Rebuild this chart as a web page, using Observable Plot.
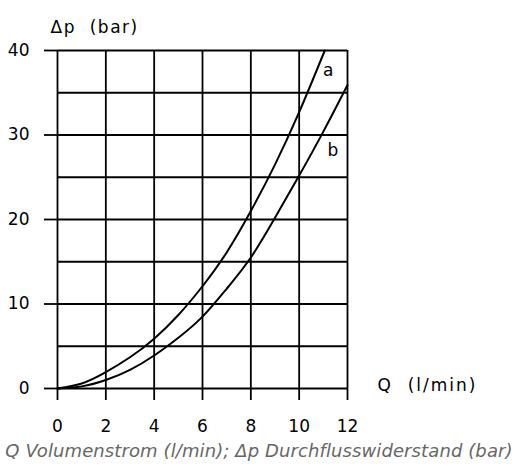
<!DOCTYPE html>
<html>
<head>
<meta charset="utf-8">
<script src="https://cdn.jsdelivr.net/npm/d3@7"></script>
<script src="https://cdn.jsdelivr.net/npm/@observablehq/plot@0.6"></script>
<style>
  html, body { margin: 0; padding: 0; background: #fff; }
  #caption { width: 518px; height: 30px; line-height: 30px; text-align: center;
    font-family: "DejaVu Sans", sans-serif; font-style: italic; font-size: 18px; letter-spacing: 0.1px; color: #666; white-space: nowrap; }
</style>
</head>
<body>
<div id="chart"></div>
<div id="caption">Q Volumenstrom (l/min); Δp Durchflusswiderstand (bar)</div>
<script>
// Flow rate Q (l/min) vs pressure drop Δp (bar)
const qA = [0, 1, 2, 3, 4, 5, 6, 7, 8, 9, 10, 11.06];
const dpA = [0, 0.6, 1.95, 3.7, 5.9, 8.7, 12.1, 16.1, 21.0, 26.5, 32.7, 40];
const qB = [0, 1, 2, 3, 4, 5, 6, 7, 8, 9, 10, 11, 12];
const dpB = [0, 0.25, 1.0, 2.2, 3.9, 6.0, 8.5, 11.8, 15.5, 20.2, 25.2, 30.4, 35.9];
const curveNames = ["a", "b"];
const curveLabelQ = [11.2, 11.4];
const curveLabelDp = [37.6, 28.2];
const xTicks = [0, 2, 4, 6, 8, 10, 12];
const yTicks = [0, 10, 20, 30, 40];
const yGrid = [0, 5, 10, 15, 20, 25, 30, 35, 40];
const yAxisTitle = "Δp\u00a0\u00a0(bar)";
const xAxisTitle = "Q\u00a0\u00a0(l/min)";

const seriesA = qA.map((q, i) => ({q, dp: dpA[i], s: "a"}));
const seriesB = qB.map((q, i) => ({q, dp: dpB[i], s: "b"}));
const labels = curveNames.map((n, i) => ({n, q: curveLabelQ[i], dp: curveLabelDp[i]}));

const chart = Plot.plot({
  width: 518,
  height: 436,
  marginTop: 50,
  marginBottom: 48,
  marginLeft: 57,
  marginRight: 171,
  style: {fontFamily: "DejaVu Sans", fontSize: "17px", background: "#fff", color: "#000"},
  x: {domain: [0, 12], label: null},
  y: {domain: [0, 40], label: null},
  marks: [
    Plot.ruleX(xTicks, {x: d => d, stroke: "#000", strokeWidth: 1.8, strokeOpacity: 1}),
    Plot.ruleY(yGrid, {y: d => d, stroke: "#000", strokeWidth: 1.8, strokeOpacity: 1}),
    Plot.axisX({ticks: xTicks, tickSize: 12, tickPadding: 19, strokeWidth: 1.8, fontSize: 17, label: null}),
    Plot.axisY({ticks: yTicks, tickSize: 13, tickPadding: 15, strokeWidth: 1.8, fontSize: 17, label: null}),
    Plot.line(seriesA, {x: "q", y: "dp", curve: "natural", stroke: "#000", strokeWidth: 2}),
    Plot.line(seriesB, {x: "q", y: "dp", curve: "natural", stroke: "#000", strokeWidth: 2}),
    Plot.text(labels, {x: "q", y: "dp", text: "n", fontSize: 17, textAnchor: "middle", fill: "#000"}),
    Plot.text([yAxisTitle], {frameAnchor: "top-left", text: d => d, dx: -7, dy: -30, textAnchor: "start", fontSize: 17, fill: "#000"}),
    Plot.text([xAxisTitle], {frameAnchor: "bottom-right", text: d => d, dx: 30, dy: 2, textAnchor: "start", fontSize: 17, fill: "#000"})
  ]
});
d3.select(chart).selectAll("text").each(function() {
  const t = this.textContent;
  if (t === yAxisTitle) d3.select(this).attr("letter-spacing", "1.5px");
  if (t === xAxisTitle) d3.select(this).attr("letter-spacing", "2px");
});
document.getElementById("chart").appendChild(chart);
</script>
</body>
</html>
